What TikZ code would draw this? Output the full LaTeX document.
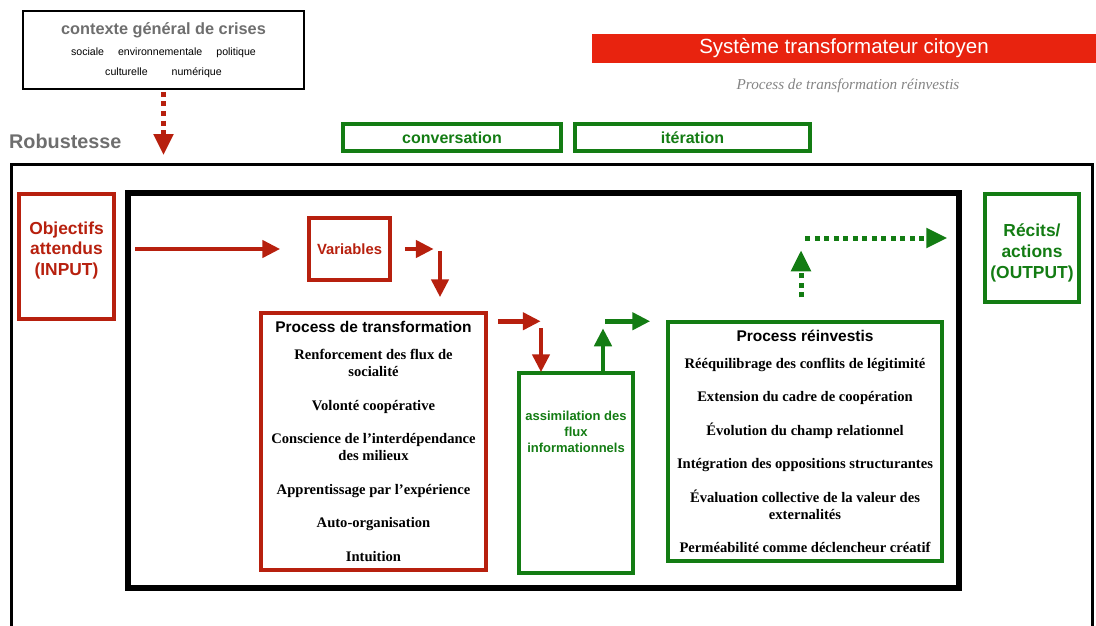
\documentclass[tikz,border=0pt]{standalone}
\usepackage{fontspec}
\setmainfont{Liberation Serif}
\setsansfont{Liberation Sans}
\usetikzlibrary{arrows.meta,positioning}
\definecolor{rouge}{HTML}{B7200E}
\definecolor{bandeau}{HTML}{E8230F}
\definecolor{vert}{HTML}{137C13}
\definecolor{gris}{HTML}{6E6E6E}

\begin{document}
\begin{tikzpicture}[x=1pt,y=-1pt,
	redbox/.style={draw=rouge,line width=3.5pt,inner sep=0pt},
	greenbox/.style={draw=vert,line width=3.5pt,inner sep=0pt},
	item/.style={font=\bfseries\fontsize{14.6}{17}\selectfont,align=center},
	head/.style={font=\sffamily\bfseries\fontsize{17.4}{21}\selectfont,align=center},
	redarr/.style={rouge,line width=4.5pt,-{Triangle[length=18pt,width=17pt]}},
	greenarr/.style={vert,line width=4.5pt,-{Triangle[length=18pt,width=17pt]}},
	dotarr/.style={line width=5pt,dash pattern=on 5pt off 4.5pt,-{Triangle[length=21pt,width=19pt]}}]
	\useasboundingbox (0,0) rectangle (1096,626);

	\node[draw,line width=2pt,minimum width=281,minimum height=78,align=center,
		font=\sffamily\fontsize{10.6}{19.5}\selectfont] (ctx) at (163.5,50)
		{{\color{gris}\bfseries\fontsize{16.3}{17}\selectfont contexte général de crises}\\[1.5pt]
		sociale\hspace{14pt}environnementale\hspace{14pt}politique\\[0pt]
		culturelle\hspace{24pt}numérique};
	\node[anchor=west,text=gris,font=\sffamily\bfseries\fontsize{19.8}{22}\selectfont,inner sep=0pt]
		(rob) at (9,141) {Robustesse};
	\node[fill=bandeau,text=white,minimum width=504,minimum height=29,inner sep=0pt,
		font=\sffamily\fontsize{20.5}{22}\selectfont] (sys) at (844,48.5) {Système transformateur citoyen};
	\node[text=gris!85,font=\itshape\fontsize{15.2}{17}\selectfont] (sub) at (848,86)
		{Process de transformation réinvestis};
	\node[greenbox,minimum width=218,minimum height=27,text=vert,
		font=\sffamily\bfseries\fontsize{16}{17}\selectfont] (conv) at (452,137.5) {conversation};
	\node[greenbox,minimum width=235,minimum height=27,text=vert,
		font=\sffamily\bfseries\fontsize{16}{17}\selectfont] (iter) at (692.5,137.5) {itération};

	\draw[line width=3pt] (11.5,640) -- (11.5,164.5) -- (1092.5,164.5) -- (1092.5,640);
	\node[draw,line width=6pt,minimum width=831,minimum height=395] (sysbox) at (543.5,390.5) {};

	\node[redbox,minimum width=95,minimum height=125,
		label={[head,text=rouge,yshift=6pt]center:Objectifs\\attendus\\(INPUT)}] (obj) at (66.5,256.5) {};
	\node[redbox,minimum width=81,minimum height=62,text=rouge,
		font=\sffamily\bfseries\fontsize{14.8}{16}\selectfont] (var) at (349.5,249) {Variables};
	\node[redbox,minimum width=225,minimum height=257,item] (ptrans) at (373.5,441.5)
		{{\sffamily\fontsize{15.5}{17}\selectfont Process de transformation}\\[10pt]
		Renforcement des flux de\\socialité\\[16.5pt]
		Volonté coopérative\\[16.5pt]
		Conscience de l’interdépendance\\des milieux\\[16.5pt]
		Apprentissage par l’expérience\\[16.5pt]
		Auto-organisation\\[16.5pt]
		Intuition};
	\node[greenbox,minimum width=114,minimum height=200,
		label={[anchor=north,yshift=-36pt,text=vert,align=center,
		font=\sffamily\bfseries\fontsize{13}{16}\selectfont]north:assimilation des\\flux\\informationnels}]
		(assim) at (576,473) {};
	\node[greenbox,minimum width=274,minimum height=239,item] (preinv) at (805,441.5)
		{{\sffamily\fontsize{15.5}{17}\selectfont Process réinvestis}\\[10pt]
		Rééquilibrage des conflits de légitimité\\[16.5pt]
		Extension du cadre de coopération\\[16.5pt]
		Évolution du champ relationnel\\[16.5pt]
		Intégration des oppositions structurantes\\[16.5pt]
		Évaluation collective de la valeur des\\externalités\\[16.5pt]
		Perméabilité comme déclencheur créatif};
	\node[greenbox,minimum width=94,minimum height=108,
		label={[head,text=vert,yshift=-5pt]center:Récits/\\actions\\(OUTPUT)}] (recits) at (1032,248) {};

	\draw[dotarr,rouge] ([yshift=-2pt]ctx.south) -- ([yshift=-65pt]ctx.south);
	\draw[redarr] ([xshift=-172pt]var.west) -- ([xshift=-27pt]var.west);
	\draw[redarr] ([xshift=13pt]var.east) -- ([xshift=42pt]var.east);
	\draw[redarr] ([xshift=66.5pt,yshift=60pt]ptrans.north) -- ([xshift=66.5pt,yshift=14pt]ptrans.north);
	\draw[redarr] ([xshift=10pt,yshift=-10pt]ptrans.north east) -- ([xshift=53pt,yshift=-10pt]ptrans.north east);
	\draw[redarr] ([xshift=-35pt,yshift=43pt]assim.north) -- ([xshift=-35pt,yshift=-1pt]assim.north);
	\draw[greenarr] ([xshift=27pt,yshift=-2pt]assim.north) -- ([xshift=27pt,yshift=43pt]assim.north);
	\draw[greenarr] ([xshift=-61pt,yshift=-1pt]preinv.north west) -- ([xshift=-16pt,yshift=-1pt]preinv.north west);
	\draw[dotarr,vert] ([xshift=-4pt,yshift=23pt]preinv.north) -- ([xshift=-4pt,yshift=70pt]preinv.north);
	\draw[dotarr,vert] ([xshift=-178pt,yshift=10pt]recits.west) -- ([xshift=-36pt,yshift=10pt]recits.west);
\end{tikzpicture}
\end{document}
